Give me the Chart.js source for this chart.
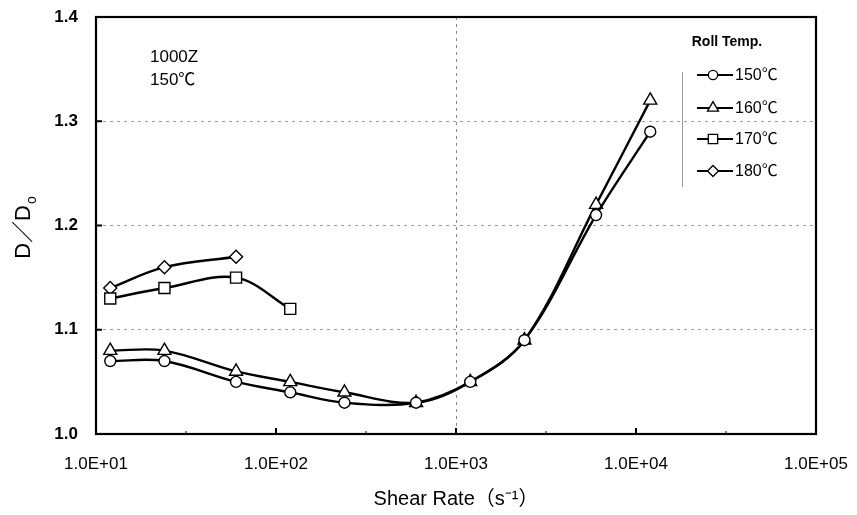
<!DOCTYPE html>
<html><head><meta charset="utf-8">
<script src="https://cdn.jsdelivr.net/npm/chart.js@4.4.1/dist/chart.umd.min.js"></script>
<style>html,body{margin:0;padding:0;background:#fff}#wrap{width:857px;height:515px}</style>
</head><body><div id="wrap"><canvas id="c" width="857" height="515"></canvas></div>
<script>
const shearRates = [12, 24, 60, 120, 240, 600, 1200, 2400, 6000, 12000];
const t150 = [1.07, 1.07, 1.05, 1.04, 1.03, 1.03, 1.05, 1.09, 1.21, 1.29];
const t160 = [1.08, 1.08, 1.06, 1.05, 1.04, 1.03, 1.05, 1.09, 1.22, 1.32];
const t170 = [1.13, 1.14, 1.15, 1.12];
const t180 = [1.14, 1.16, 1.17];
const seriesNames = ['150℃', '160℃', '170℃', '180℃'];
const xTicks = [10, 100, 1000, 10000, 100000];
const yTicks = [1.0, 1.1, 1.2, 1.3, 1.4];
const annotationLines = ['1000Z', '150℃'];

const FONT = '"Liberation Sans", Arial, "Noto Sans CJK JP", sans-serif';
const pts = (vals) => vals.map((v, i) => ({x: shearRates[i], y: v}));
const styles = [
  {pointStyle: 'circle', r: 5.5},
  {pointStyle: 'triangle', r: 7.5},
  {pointStyle: 'rect', r: 7.8},
  {pointStyle: 'rectRot', r: 6.5}
];
const data = [t150, t160, t170, t180];
const datasets = data.map((vals, i) => ({
  label: seriesNames[i],
  data: pts(vals),
  borderColor: '#000',
  borderWidth: 2.4,
  backgroundColor: '#fff',
  pointStyle: styles[i].pointStyle,
  pointRadius: styles[i].r,
  pointBorderWidth: 1.4,
  pointBorderColor: '#000',
  pointBackgroundColor: '#fff',
  tension: 0.35,
  fill: false
}));

const deco = {
  id: 'deco',
  afterDraw(chart) {
    const ctx = chart.ctx, a = chart.chartArea;
    const xs = chart.scales.x, ys = chart.scales.y;
    ctx.save();
    // frame
    ctx.strokeStyle = '#000';
    ctx.lineWidth = 2.2;
    ctx.strokeRect(a.left, a.top, a.right - a.left, a.bottom - a.top);
    // inward ticks
    ctx.lineWidth = 2;
    xTicks.forEach(v => {
      const px = xs.getPixelForValue(v);
      ctx.beginPath(); ctx.moveTo(px, a.bottom); ctx.lineTo(px, a.bottom - 6); ctx.stroke();
    });
    ctx.lineWidth = 1;
    for (let k = 1; k < 5; k++) {
      const px = xs.getPixelForValue(Math.pow(10, k + 0.5));
      ctx.beginPath(); ctx.moveTo(px, a.bottom); ctx.lineTo(px, a.bottom - 3); ctx.stroke();
    }
    ctx.lineWidth = 2;
    yTicks.forEach(v => {
      const py = ys.getPixelForValue(v);
      ctx.beginPath(); ctx.moveTo(a.left, py); ctx.lineTo(a.left + 6, py); ctx.stroke();
    });
    // annotation
    ctx.fillStyle = '#000';
    ctx.font = '17px ' + FONT;
    ctx.textAlign = 'left'; ctx.textBaseline = 'middle';
    ctx.fillText(annotationLines[0], 150, 57);
    ctx.fillText(annotationLines[1], 150, 80);
    // legend
    ctx.font = 'bold 14px ' + FONT;
    ctx.textAlign = 'center';
    ctx.fillText('Roll Temp.', 727, 42);
    ctx.strokeStyle = '#999'; ctx.lineWidth = 1;
    ctx.beginPath(); ctx.moveTo(682.5, 72); ctx.lineTo(682.5, 187); ctx.stroke();
    const ly = [75, 108, 139, 171];
    ctx.font = '16px ' + FONT;
    ctx.textAlign = 'left';
    datasets.forEach((d, i) => {
      ctx.strokeStyle = '#000'; ctx.lineWidth = 2;
      ctx.beginPath(); ctx.moveTo(697, ly[i]); ctx.lineTo(733, ly[i]); ctx.stroke();
      ctx.fillStyle = '#fff'; ctx.lineWidth = 1.3;
      Chart.helpers.drawPoint(ctx, {pointStyle: d.pointStyle, radius: d.pointRadius * 0.85, rotation: 0, borderWidth: 1.3}, 713, ly[i]);
      ctx.fillStyle = '#000';
      ctx.fillText(d.label, 735, ly[i] + 1);
    });
    // y title D/D0
    ctx.translate(24, 228);
    ctx.rotate(-Math.PI / 2);
    ctx.font = '22px ' + FONT;
    ctx.textAlign = 'left'; ctx.textBaseline = 'middle';
    const main = 'D／D';
    const w = ctx.measureText(main).width;
    ctx.font = '14px ' + FONT;
    const ws = ctx.measureText('o').width;
    const start = -(w + ws) / 2;
    ctx.font = '22px ' + FONT;
    ctx.fillText(main, start, 0);
    ctx.font = '14px ' + FONT;
    ctx.fillText('o', start + w + 1, 8);
    ctx.restore();
  }
};

new Chart(document.getElementById('c'), {
  type: 'line',
  data: {datasets},
  options: {
    responsive: false,
    animation: false,
    layout: {padding: {top: 17, right: 41, left: 0, bottom: 0}},
    plugins: {legend: {display: false}, tooltip: {enabled: false}},
    scales: {
      x: {
        type: 'logarithmic', min: 10, max: 100000,
        afterBuildTicks: s => { s.ticks = xTicks.map(v => ({value: v})); },
        afterFit: s => { s.height = 81; s.paddingLeft = 0; s.paddingRight = 0; },
        border: {display: false, dash: [3, 4]},
        grid: {
          drawTicks: false,
          color: c => c.tick && c.tick.value === 1000 ? '#888' : 'rgba(0,0,0,0)',
          lineWidth: 1
        },
        ticks: {
          color: '#000', padding: 20, maxRotation: 0,
          font: {family: FONT, size: 17},
          callback: v => Number(v).toExponential(1).toUpperCase().replace(/E\+(\d)$/, 'E+0$1')
        },
        title: {display: true, text: 'Shear Rate（s⁻¹）', color: '#000', font: {family: FONT, size: 20}, padding: {top: 4}}
      },
      y: {
        min: 1.0, max: 1.4,
        afterBuildTicks: s => { s.ticks = yTicks.map(v => ({value: v})); },
        afterFit: s => { s.width = 96; s.paddingTop = 0; s.paddingBottom = 0; },
        border: {display: false, dash: [3, 4]},
        grid: {
          drawTicks: false,
          color: c => (c.tick && c.tick.value > 1.05 && c.tick.value < 1.35) ? '#999' : 'rgba(0,0,0,0)',
          lineWidth: 1
        },
        ticks: {color: '#000', padding: 18, font: {family: FONT, size: 17, weight: 'bold'}, callback: v => Number(v).toFixed(1)}
      }
    }
  },
  plugins: [deco]
});
</script></body></html>
